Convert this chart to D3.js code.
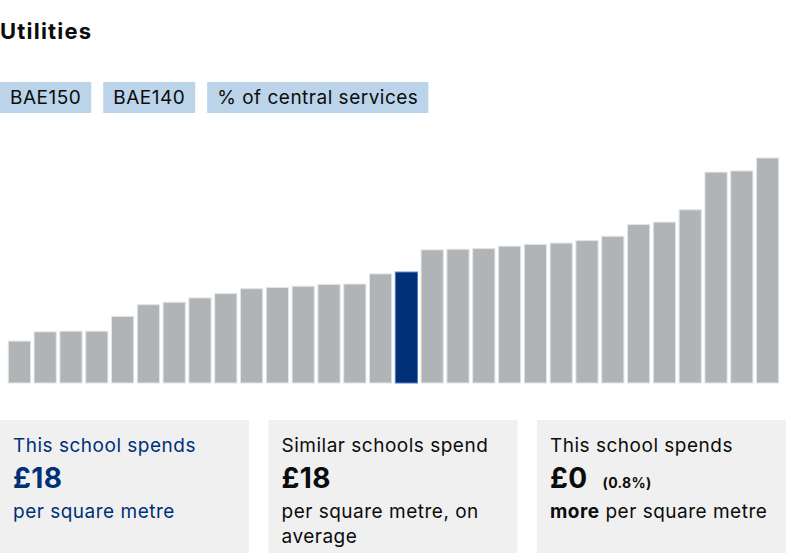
<!DOCTYPE html>
<html>
<head>
<meta charset="utf-8">
<script src="https://cdn.jsdelivr.net/npm/d3@7"></script>
<style>
  html, body { margin: 0; padding: 0; background: #fff; }
  svg { display: block; font-family: Inter, "Noto Sans", sans-serif; }
</style>
</head>
<body>
<svg id="chart" width="787" height="553"></svg>
<script>
const title = "Utilities";
const tags = ["BAE150", "BAE140", "% of central services"];
const schools = d3.range(1, 31).map(i => "School " + i);
const values = [6.8, 8.3, 8.4, 8.4, 10.8, 12.7, 13.1, 13.8, 14.5, 15.3, 15.5, 15.7, 16.0, 16.05, 17.7, 18.0,
                21.6, 21.7, 21.8, 22.2, 22.5, 22.7, 23.1, 23.8, 25.7, 26.1, 28.1, 34.2, 34.4, 36.5];
const highlightIndex = 15;
const panels = [
  { head: "This school spends", value: "£18", note: "", lines: [[{t: "per square metre", b: false}]], blue: true },
  { head: "Similar schools spend", value: "£18", note: "", lines: [[{t: "per square metre, on", b: false}], [{t: "average", b: false}]], blue: false },
  { head: "This school spends", value: "£0", note: "(0.8%)", lines: [[{t: "more", b: true}, {t: " per square metre", b: false}]], blue: false }
];

const svg = d3.select("#chart");
const blue = "#003078";
const ink = "#0b0c0c";
const bodySize = 19, bodySpacing = 0.5;

svg.append("text").attr("x", 0).attr("y", 39)
  .attr("font-size", 22).attr("font-weight", 700).attr("letter-spacing", 1.2)
  .attr("fill", ink).text(title);

// tags
let tx = 0;
tags.forEach(t => {
  const g = svg.append("g");
  const txt = g.append("text").attr("x", tx + 10).attr("y", 104)
    .attr("font-size", bodySize).attr("letter-spacing", bodySpacing).attr("fill", ink).text(t);
  const w = txt.node().getComputedTextLength() + 20;
  g.insert("rect", "text").attr("x", tx).attr("y", 82).attr("width", w).attr("height", 31).attr("fill", "#bbd4ea");
  tx += w + 12;
});

// bars
const x = d3.scaleBand().domain(schools).range([7, 780]).paddingInner(0.14).paddingOuter(0.05);
const y = d3.scaleLinear().domain([0, d3.max(values)]).range([383, 158]);

svg.append("g").selectAll("rect").data(values).join("rect")
  .attr("x", (d, i) => x(schools[i]))
  .attr("y", d => y(d))
  .attr("width", x.bandwidth())
  .attr("height", d => y(0) - y(d))
  .attr("fill", (d, i) => i === highlightIndex ? blue : "#b1b4b6")
  .attr("stroke", (d, i) => i === highlightIndex ? "#5a7fbf" : "#e3e4e5")
  .attr("stroke-width", 1);

// panels
const pw = 249, gap = 19.5;
panels.forEach((p, i) => {
  const px = i * (pw + gap);
  const col = p.blue ? blue : ink;
  svg.append("rect").attr("x", px).attr("y", 420).attr("width", pw).attr("height", 140).attr("fill", "#f0f0f0");
  svg.append("text").attr("x", px + 13).attr("y", 452).attr("font-size", bodySize)
    .attr("letter-spacing", bodySpacing).attr("fill", col).text(p.head);
  const v = svg.append("text").attr("x", px + 13).attr("y", 488).attr("font-size", 28)
    .attr("font-weight", 700).attr("letter-spacing", 0.4).attr("fill", col).text(p.value);
  if (p.note) {
    const vw = v.node().getComputedTextLength();
    svg.append("text").attr("x", px + 13 + vw + 15).attr("y", 488).attr("font-size", 14)
      .attr("font-weight", 700).attr("letter-spacing", 0.3).attr("fill", col).text(p.note);
  }
  p.lines.forEach((ln, j) => {
    const t = svg.append("text").attr("x", px + 13).attr("y", 518 + j * 25).attr("font-size", bodySize)
      .attr("letter-spacing", bodySpacing).attr("fill", col);
    ln.forEach(s => t.append("tspan").attr("font-weight", s.b ? 700 : 400).text(s.t));
  });
});
</script>
</body>
</html>
